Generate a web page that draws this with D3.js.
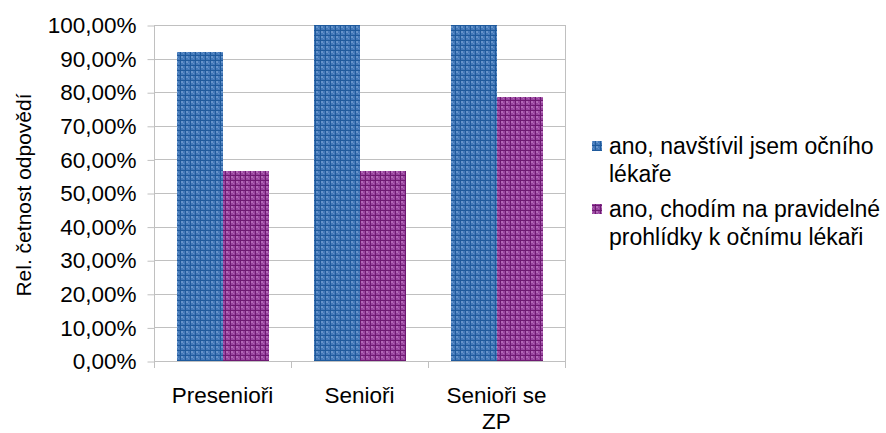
<!DOCTYPE html>
<html>
<head>
<meta charset="utf-8">
<script src="https://cdn.jsdelivr.net/npm/d3@7"></script>
<style>
  html, body { margin: 0; padding: 0; background: #fff; }
  svg { display: block; font-family: "Liberation Sans", Arial, sans-serif; }
</style>
</head>
<body>
<svg id="chart" width="886" height="433"></svg>
<script>
// Relative frequency of answers per group
const categories = ["Presenioři", "Senioři", "Senioři se ZP"];
const categoryLines = [["Presenioři"], ["Senioři"], ["Senioři se", "ZP"]];
const seriesNames = ["ano, navštívil jsem očního lékaře", "ano, chodím na pravidelné prohlídky k očnímu lékaři"];
const legendLines = [["ano, navštívil jsem očního", "lékaře"], ["ano, chodím na pravidelné", "prohlídky k očnímu lékaři"]];
const visited = [0.92, 1.00, 1.00];
const regular = [0.565, 0.565, 0.786];
const yTicks = [0, 0.1, 0.2, 0.3, 0.4, 0.5, 0.6, 0.7, 0.8, 0.9, 1.0];
const axisTitle = "Rel. četnost odpovědí";

const series = [visited, regular];
const palettes = [
  { line: "#1f5a9c", cell: "#4378b8", dot: "#7ea6d6" },
  { line: "#6e1a72", cell: "#98449e", dot: "#c384c8" }
];

const svg = d3.select("#chart");
const plot = { left: 154, right: 565, top: 25, bottom: 361 };
const FONT = 22.5;

// Hatched fills: dark grid lines with lighter checked cells
const defs = svg.append("defs");
palettes.forEach((p, i) => {
  const pat = defs.append("pattern")
    .attr("id", "pat" + i)
    .attr("patternUnits", "userSpaceOnUse")
    .attr("width", 5).attr("height", 5);
  pat.append("rect").attr("width", 5).attr("height", 5).attr("fill", p.cell);
  pat.append("rect").attr("x", 1).attr("y", 1).attr("width", 2).attr("height", 2).attr("fill", p.dot).attr("opacity", 0.6);
  pat.append("rect").attr("x", 3).attr("y", 3).attr("width", 1).attr("height", 1).attr("fill", p.dot).attr("opacity", 0.5);
  pat.append("rect").attr("x", 0).attr("y", 0).attr("width", 5).attr("height", 1).attr("fill", p.line);
  pat.append("rect").attr("x", 0).attr("y", 0).attr("width", 1).attr("height", 5).attr("fill", p.line);
});

const x = d3.scaleBand().domain(categories).range([plot.left, plot.right]).paddingInner(0).paddingOuter(0);
const inner = d3.scaleBand().domain([0, 1]).range([0, x.bandwidth()]).paddingOuter(0.49).paddingInner(0);
const y = d3.scaleLinear().domain([0, 1]).range([plot.bottom, plot.top]);

// Horizontal gridlines
svg.append("g").selectAll("line").data(yTicks).join("line")
  .attr("x1", plot.left).attr("x2", plot.right)
  .attr("y1", d => Math.round(y(d)) + 0.5).attr("y2", d => Math.round(y(d)) + 0.5)
  .attr("stroke", "#c0c0c0").attr("stroke-width", 1);

// Right frame
svg.append("line")
  .attr("x1", plot.right + 0.5).attr("x2", plot.right + 0.5)
  .attr("y1", plot.top).attr("y2", plot.bottom)
  .attr("stroke", "#c0c0c0");

// Bars
series.forEach((vals, si) => {
  svg.append("g").selectAll("rect").data(categories).join("rect")
    .attr("x", (c) => Math.round(x(c) + inner(si)))
    .attr("width", Math.round(inner.bandwidth()))
    .attr("y", (c, i) => Math.round(y(vals[i])))
    .attr("height", (c, i) => plot.bottom - Math.round(y(vals[i])))
    .attr("fill", "url(#pat" + si + ")");
});

// Y axis
const yAxis = d3.axisLeft(y).tickValues(yTicks).tickSize(7).tickPadding(11)
  .tickFormat(d => d3.format(".2f")(d * 100).replace(".", ",") + "%");
const gy = svg.append("g").attr("transform", `translate(${plot.left + 0.5},0.5)`).call(yAxis);
gy.attr("font-size", null).attr("font-family", null);
gy.select(".domain").attr("stroke", "#c0c0c0").attr("d", `M0,${plot.top - 0.5}V${plot.bottom}`);
gy.selectAll(".tick line").attr("stroke", "#c0c0c0");
gy.selectAll(".tick text").attr("font-size", FONT).attr("fill", "#000")
  .attr("font-family", "'Liberation Sans', Arial, sans-serif");

// X axis: ticks at category boundaries
const boundaries = categories.map(c => x(c)).concat([plot.right]);
const gx = svg.append("g");
gx.append("line")
  .attr("x1", plot.left).attr("x2", plot.right + 1)
  .attr("y1", plot.bottom + 0.5).attr("y2", plot.bottom + 0.5)
  .attr("stroke", "#c0c0c0");
gx.selectAll("line.tk").data(boundaries).join("line").attr("class", "tk")
  .attr("x1", d => Math.round(d) + 0.5).attr("x2", d => Math.round(d) + 0.5)
  .attr("y1", plot.bottom).attr("y2", plot.bottom + 7)
  .attr("stroke", "#c0c0c0");
const labels = gx.selectAll("text.cat").data(categories).join("text").attr("class", "cat")
  .attr("x", c => x(c) + x.bandwidth() / 2)
  .attr("y", 403)
  .attr("text-anchor", "middle")
  .attr("font-size", FONT).attr("fill", "#000");
labels.selectAll("tspan").data((c, i) => categoryLines[i]).join("tspan")
  .attr("x", function () { return d3.select(this.parentNode).attr("x"); })
  .attr("dy", (d, j) => j === 0 ? 0 : 26)
  .text(d => d);

// Axis title
svg.append("text")
  .attr("transform", `translate(31,${(plot.top + plot.bottom) / 2 + 2}) rotate(-90)`)
  .attr("text-anchor", "middle")
  .attr("font-size", 21).attr("fill", "#000")
  .text(axisTitle);

// Legend
const legend = svg.append("g");
const legendY = [154, 217];
legendLines.forEach((lines, i) => {
  legend.append("rect")
    .attr("x", 592).attr("y", legendY[i] - 13)
    .attr("width", 10).attr("height", 10)
    .attr("fill", "url(#pat" + i + ")");
  const t = legend.append("text")
    .attr("x", 609).attr("y", legendY[i])
    .attr("font-size", 23).attr("fill", "#000");
  t.selectAll("tspan").data(lines).join("tspan")
    .attr("x", 609).attr("dy", (d, j) => j === 0 ? 0 : 28)
    .text(d => d);
});
</script>
</body>
</html>
